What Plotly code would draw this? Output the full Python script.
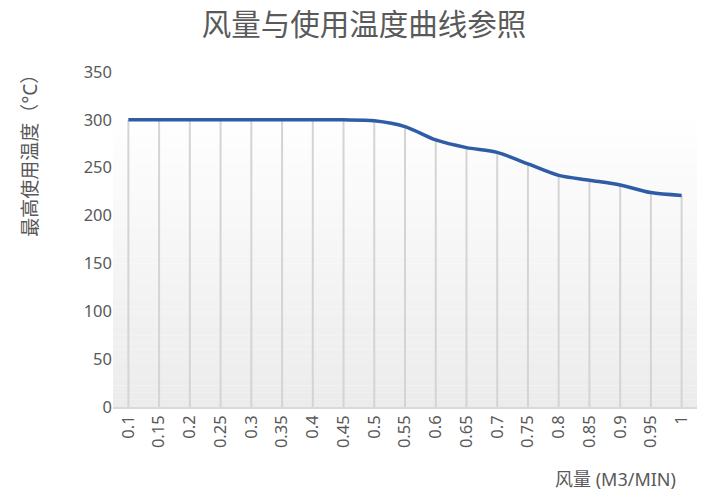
import plotly.graph_objects as go

categories = ["0.1", "0.15", "0.2", "0.25", "0.3", "0.35", "0.4", "0.45", "0.5", "0.55",
              "0.6", "0.65", "0.7", "0.75", "0.8", "0.85", "0.9", "0.95", "1"]
temperature = [300, 300, 300, 300, 300, 300, 300, 300, 299, 293,
               279, 271, 266, 254, 242, 237, 232, 224, 221]
y_ticks = [0, 50, 100, 150, 200, 250, 300, 350]

title_text = "风量与使用温度曲线参照"
y_title = "最高使用温度（°C）"
x_title = "风量 (M3/MIN)"

FONT = "Noto Sans, Noto Sans CJK SC, sans-serif"
GRAY = "#595959"

fig = go.Figure()

# gradient background bands (white at top -> light gray at bottom), from 0 to 300
n_bands = 40
top_val = 300
for i in range(n_bands):
    y0 = top_val * i / n_bands
    y1 = top_val * (i + 1) / n_bands
    t = (i + 0.5) / n_bands  # 0 bottom -> 1 top
    c = int(236 + (255 - 236) * t)
    fig.add_shape(type="rect", xref="paper", yref="y", x0=0, x1=1, y0=y0, y1=y1,
                  fillcolor=f"rgb({c},{c},{c})", line_width=0, layer="below")

# drop lines from each point to the axis
fig.add_trace(go.Scatter(
    x=categories, y=temperature, mode="markers",
    marker=dict(size=0.1, color="rgba(0,0,0,0)"),
    error_y=dict(type="data", symmetric=False, array=[0] * len(temperature),
                 arrayminus=temperature, width=0, thickness=2, color="#d4d4d4"),
    hoverinfo="skip", showlegend=False))

fig.add_trace(go.Scatter(
    x=categories, y=temperature, mode="lines",
    line=dict(color="#2E5CA5", width=3.5, shape="spline", smoothing=0.8),
    showlegend=False))

fig.update_layout(
    width=708, height=499,
    margin=dict(l=113, r=11, t=72, b=92),
    paper_bgcolor="white", plot_bgcolor="white",
    font=dict(family=FONT, color=GRAY, size=16.5),
    title=dict(text=title_text, x=0.514, xanchor="center", y=0.95, yanchor="middle",
               font=dict(size=29.5, color=GRAY, family=FONT)),
    xaxis=dict(type="category", range=[-0.5, len(categories) - 0.5],
               showgrid=False, zeroline=False, showline=True, linecolor="#d9d9d9",
               linewidth=1.5, ticks="", tickangle=-90,
               tickfont=dict(size=16.5, color=GRAY, family=FONT)),
    yaxis=dict(range=[0, 350], tickvals=y_ticks, showgrid=False, zeroline=False,
               showline=False, ticks="", ticklen=0,
               tickfont=dict(size=16.5, color=GRAY, family=FONT)),
    annotations=[
        dict(text=y_title, textangle=-90, xref="paper", yref="paper",
             x=-0.142, y=0.765, xanchor="center", yanchor="middle", showarrow=False,
             font=dict(size=19, color=GRAY, family=FONT)),
        dict(text=x_title, xref="paper", yref="paper", x=0.967, y=-0.215,
             xanchor="right", yanchor="middle", showarrow=False,
             font=dict(size=18, color=GRAY, family=FONT)),
    ],
)

fig.write_html("out.html", config={"displayModeBar": False},
               post_script="document.body.style.margin='0';")
